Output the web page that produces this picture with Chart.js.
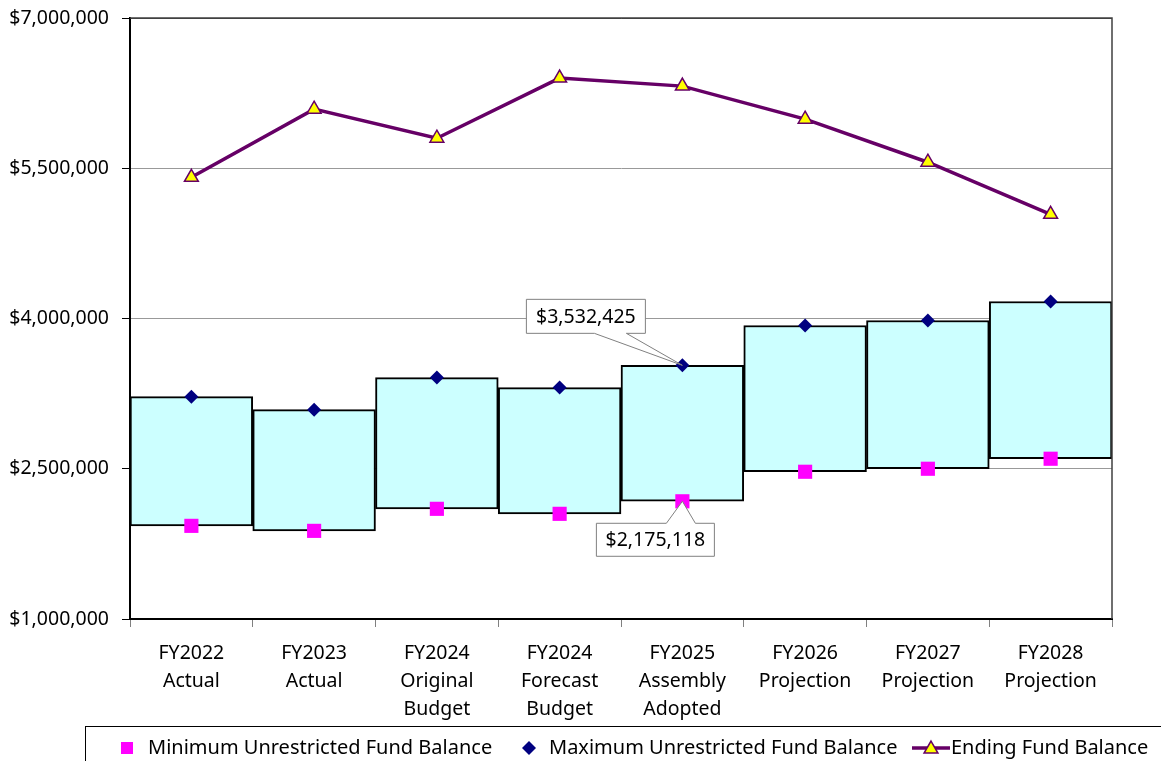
<!DOCTYPE html>
<html>
<head>
<meta charset="utf-8">
<script src="https://cdn.jsdelivr.net/npm/chart.js@4.4.1/dist/chart.umd.min.js"></script>
<style>
  html, body { margin: 0; padding: 0; background: #fff; }
  #wrap { width: 1161px; height: 761px; position: relative; }
</style>
</head>
<body>
<div id="wrap"><canvas id="fundChart"></canvas></div>
<script>
// ================= DATA =================
const categories = [
  ["FY2022", "Actual"],
  ["FY2023", "Actual"],
  ["FY2024", "Original", "Budget"],
  ["FY2024", "Forecast", "Budget"],
  ["FY2025", "Assembly", "Adopted"],
  ["FY2026", "Projection"],
  ["FY2027", "Projection"],
  ["FY2028", "Projection"]
];
const minBalance = [1930000, 1880000, 2100000, 2050000, 2175118, 2470000, 2500000, 2600000];
const maxBalance = [3220000, 3090000, 3410000, 3310000, 3532425, 3930000, 3980000, 4170000];
const endingBalance = [5410000, 6090000, 5800000, 6400000, 6320000, 5990000, 5560000, 5040000];
const yTicks = [1000000, 2500000, 4000000, 5500000, 7000000];
const seriesNames = [
  "Minimum Unrestricted Fund Balance",
  "Maximum Unrestricted Fund Balance",
  "Ending Fund Balance"
];
const calloutIndex = 4;

const FONT = "'Noto Sans', 'Open Sans', sans-serif";
const money = v => "$" + Math.round(v).toLocaleString("en-US");

// ================= HELPERS =================
function drawDiamond(ctx, x, y, r, color) {
  ctx.beginPath();
  ctx.moveTo(x, y - r);
  ctx.lineTo(x + r, y);
  ctx.lineTo(x, y + r);
  ctx.lineTo(x - r, y);
  ctx.closePath();
  ctx.fillStyle = color;
  ctx.fill();
}

function drawTriangle(ctx, x, y, r) {
  ctx.beginPath();
  ctx.moveTo(x, y - r);
  ctx.lineTo(x + r * 0.866, y + r * 0.5);
  ctx.lineTo(x - r * 0.866, y + r * 0.5);
  ctx.closePath();
  ctx.fillStyle = "#ffff00";
  ctx.fill();
  ctx.lineWidth = 1.5;
  ctx.strokeStyle = "#660066";
  ctx.stroke();
}

// callout box with a wedge pointing at (ax, ay)
function drawCallout(ctx, text, ax, ay, box, wedge) {
  const [l, t, r, b] = box;
  ctx.save();
  ctx.beginPath();
  if (wedge.side === "bottom") {
    ctx.moveTo(l, t);
    ctx.lineTo(r, t);
    ctx.lineTo(r, b);
    ctx.lineTo(wedge.x2, b);
    ctx.lineTo(ax, ay);
    ctx.lineTo(wedge.x1, b);
    ctx.lineTo(l, b);
  } else {
    ctx.moveTo(l, b);
    ctx.lineTo(l, t);
    ctx.lineTo(wedge.x1, t);
    ctx.lineTo(ax, ay);
    ctx.lineTo(wedge.x2, t);
    ctx.lineTo(r, t);
    ctx.lineTo(r, b);
  }
  ctx.closePath();
  ctx.fillStyle = "#fff";
  ctx.fill();
  ctx.lineWidth = 1;
  ctx.strokeStyle = "#808080";
  ctx.stroke();
  ctx.fillStyle = "#000";
  ctx.font = "19.5px " + FONT;
  ctx.textAlign = "center";
  ctx.textBaseline = "middle";
  ctx.fillText(text, (l + r) / 2, (t + b) / 2 + 1);
  ctx.restore();
}

// ================= PLUGINS =================
const frameAndNotes = {
  id: "frameAndNotes",
  afterDatasetsDraw(chart) {
    const { ctx, chartArea } = chart;
    // plot frame (top + right)
    ctx.save();
    ctx.strokeStyle = "#404040";
    ctx.lineWidth = 1.5;
    ctx.beginPath();
    ctx.moveTo(chartArea.left, chartArea.top);
    ctx.lineTo(chartArea.right, chartArea.top);
    ctx.lineTo(chartArea.right, chartArea.bottom);
    ctx.stroke();
    ctx.restore();

    // callouts for FY2025
    const xPos = chart.scales.x.getPixelForValue(calloutIndex);
    const yMax = chart.scales.y.getPixelForValue(maxBalance[calloutIndex]);
    const yMin = chart.scales.y.getPixelForValue(minBalance[calloutIndex]);
    drawCallout(ctx, money(maxBalance[calloutIndex]), xPos, yMax,
      [xPos - 156, yMax - 66, xPos - 37, yMax - 32],
      { side: "bottom", x1: xPos - 88, x2: xPos - 56 });
    drawCallout(ctx, money(minBalance[calloutIndex]), xPos, yMin,
      [xPos - 86, yMin + 22, xPos + 32, yMin + 55],
      { side: "top", x1: xPos - 16, x2: xPos + 13 });
  },
  afterDraw(chart) {
    // legend box along the bottom
    const { ctx } = chart;
    const cy = 748;
    ctx.save();
    ctx.strokeStyle = "#000";
    ctx.lineWidth = 1;
    ctx.strokeRect(85.5, 726.5, 1200, 60);

    ctx.fillStyle = "#ff00ff";
    ctx.fillRect(121, cy - 6, 12, 12);
    drawDiamond(ctx, 529, cy, 7, "#000080");

    ctx.strokeStyle = "#660066";
    ctx.lineWidth = 3.5;
    ctx.beginPath();
    ctx.moveTo(912, cy);
    ctx.lineTo(950, cy);
    ctx.stroke();
    drawTriangle(ctx, 931, cy + 1, 8);

    ctx.fillStyle = "#000";
    ctx.font = "20px " + FONT;
    ctx.textBaseline = "middle";
    ctx.textAlign = "left";
    ctx.fillText(seriesNames[0], 148, cy);
    ctx.fillText(seriesNames[1], 549, cy);
    ctx.fillText(seriesNames[2], 951, cy);
    ctx.restore();
  }
};

// ================= CHART =================
new Chart(document.getElementById("fundChart"), {
  type: "bar",
  data: {
    labels: categories,
    datasets: [
      {
        type: "line",
        label: seriesNames[2],
        data: endingBalance,
        borderColor: "#660066",
        borderWidth: 3.5,
        pointStyle: "triangle",
        pointRadius: 8,
        pointBackgroundColor: "#ffff00",
        pointBorderColor: "#660066",
        pointBorderWidth: 1.5,
        tension: 0,
        order: 1
      },
      {
        type: "line",
        label: seriesNames[1],
        data: maxBalance,
        showLine: false,
        pointStyle: "rectRot",
        pointRadius: 7,
        pointBackgroundColor: "#000080",
        pointBorderColor: "#000080",
        pointBorderWidth: 0,
        order: 2
      },
      {
        type: "line",
        label: seriesNames[0],
        data: minBalance,
        showLine: false,
        pointStyle: "rect",
        pointRadius: 10,
        pointBackgroundColor: "#ff00ff",
        pointBorderColor: "#ff00ff",
        pointBorderWidth: 0,
        order: 3
      },
      {
        label: "Range",
        data: minBalance.map((v, i) => [v, maxBalance[i]]),
        backgroundColor: "#ccffff",
        borderColor: "#000",
        borderWidth: 2,
        borderSkipped: false,
        barPercentage: 1,
        categoryPercentage: 1,
        order: 4
      }
    ]
  },
  options: {
    responsive: true,
    maintainAspectRatio: false,
    animation: false,
    layout: { padding: { top: 18, right: 49, left: 0, bottom: 0 } },
    plugins: {
      legend: { display: false },
      tooltip: { enabled: false }
    },
    scales: {
      x: {
        offset: true,
        afterFit: s => { s.height = 142; },
        border: { color: "#000", width: 2 },
        grid: {
          offset: true,
          drawOnChartArea: false,
          drawTicks: true,
          tickLength: 8,
          tickColor: "#808080"
        },
        ticks: {
          color: "#000",
          maxRotation: 0,
          autoSkip: false,
          padding: 12,
          font: { family: FONT, size: 19.5, lineHeight: 1.45 }
        }
      },
      y: {
        min: yTicks[0],
        max: yTicks[yTicks.length - 1],
        afterFit: s => { s.width = 130; s.paddingTop = 0; s.paddingBottom = 0; },
        afterBuildTicks: s => { s.ticks = yTicks.map(v => ({ value: v })); },
        border: { color: "#000", width: 2 },
        grid: {
          color: ctx => (ctx.tick && ctx.tick.value === yTicks[yTicks.length - 1]) ? "#404040" : "#999999",
          lineWidth: 1,
          tickLength: 8,
          tickColor: "#000"
        },
        ticks: {
          color: "#000",
          padding: 13,
          font: { family: FONT, size: 19.5 },
          callback: v => money(v)
        }
      }
    }
  },
  plugins: [frameAndNotes]
});
</script>
</body>
</html>
